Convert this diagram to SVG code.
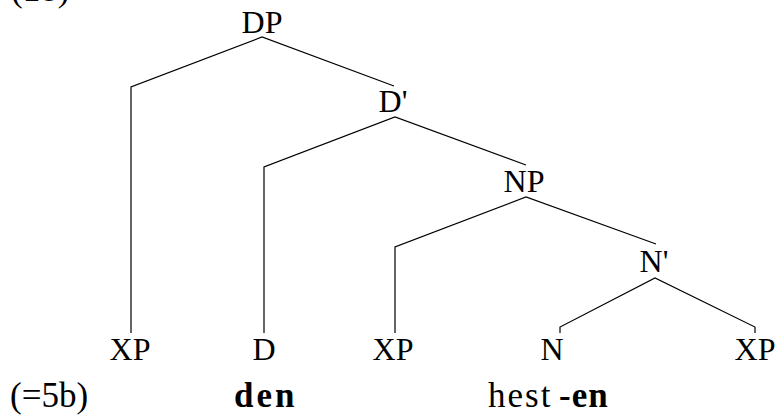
<svg xmlns="http://www.w3.org/2000/svg" width="776" height="416" viewBox="0 0 776 416">
  <style>
    text { font-family: "Liberation Serif", "Times New Roman", Times, "DejaVu Serif", serif; fill: #000; }
    .lbl { font-size: 32px; text-anchor: middle; }
    .word { font-size: 35px; }
    .b { font-weight: bold; }
    .edge { fill: none; stroke: #000; stroke-width: 1.2; }
  </style>
  <rect width="776" height="416" fill="#fff"/>

  <!-- example number, running off the top edge -->
  <text class="word" x="11" y="1" font-family="Liberation Serif, serif">(18)</text>

  <!-- tree branches -->
  <g id="connectors">
    <polyline class="edge" points="131,333 131,87 262,37 394,86"/>
    <polyline class="edge" points="264,333 264,167 395,117 526,165"/>
    <polyline class="edge" points="395,333 395,247 526,197 656,244"/>
    <polyline class="edge" points="560,333 560,327 655,278 755,327 755,333"/>
  </g>

  <g id="DP"><text class="lbl" x="262" y="33">DP</text></g>
  <g id="Dbar"><text class="lbl" x="393" y="112">D'</text></g>
  <g id="NP"><text class="lbl" x="524" y="192">NP</text></g>
  <g id="Nbar"><text class="lbl" x="654" y="272">N'</text></g>
  <g id="XP-spec-D"><text class="lbl" x="130" y="360">XP</text></g>
  <g id="D"><text class="lbl" x="264" y="360">D</text></g>
  <g id="XP-spec-N"><text class="lbl" x="393" y="360">XP</text></g>
  <g id="N"><text class="lbl" x="552" y="360">N</text></g>
  <g id="XP-comp"><text class="lbl" x="755" y="360">XP</text></g>

  <!-- gloss line -->
  <g id="gloss">
    <text class="word" x="10" y="407">(=5b)</text>
    <text class="word b" x="234" y="407" letter-spacing="3">den</text>
    <text class="word" x="488" y="407" letter-spacing="2">hest</text>
    <text class="word b" x="559" y="407" letter-spacing="1">-en</text>
  </g>
</svg>
